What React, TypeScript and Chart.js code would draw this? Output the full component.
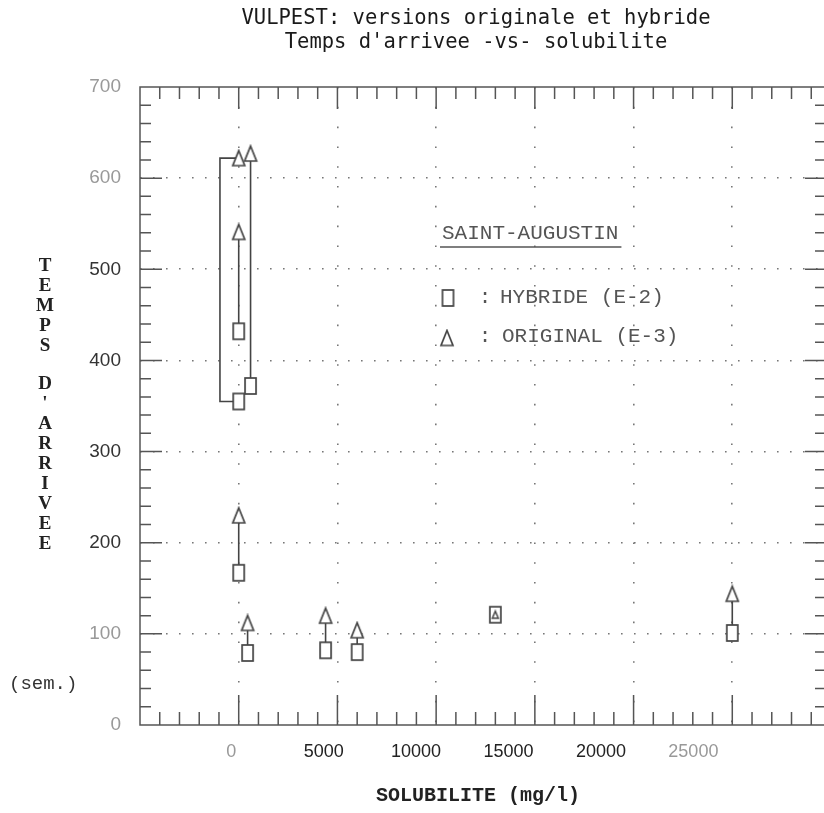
import React, { useEffect, useRef } from 'react';
import { Chart, registerables } from 'chart.js';

Chart.register(...registerables);

// ---- data ----
const solubility = [0, 600, 0, 0, 450, 4400, 6000, 13000, 25000];
const tempsHybride = [355, 372, 432, 167, 79, 82, 80, 121, 101];
const tempsOriginal = [622, 627, 541, 230, 112, 120, 104, 121, 144];
const bracketPairIndex = 0;
const bracketX = -950;

const xTickLabels = [0, 5000, 10000, 15000, 20000, 25000];
const yTickLabels = [0, 100, 200, 300, 400, 500, 600, 700];
const xGridValues = [-5000, 0, 5000, 10000, 15000, 20000, 25000, 30000];

const titleLines = ["VULPEST: versions originale et hybride", "Temps d'arrivee -vs- solubilite"];
const yTitle = "TEMPS D'ARRIVEE";
const yUnit = '(sem.)';
const xTitle = 'SOLUBILITE (mg/l)';
const legendTitle = 'SAINT-AUGUSTIN';
const legendHybride = 'HYBRIDE (E-2)';
const legendOriginal = 'ORIGINAL (E-3)';

const X_MIN = -5000;
const X_MAX = 30000;
const Y_MIN = 0;
const Y_MAX = 700;
const X_MINOR = 1000;
const X_MAJOR = 5000;
const Y_MINOR = 20;
const Y_MAJOR = 100;
const XLABEL_MIN = -4935;
const XLABEL_MAX = 32445;

const INK = '#444';

function makeSquare(w: number, h: number, lw: number, color: string) {
  const c = document.createElement('canvas');
  c.width = w + 4;
  c.height = h + 4;
  const g = c.getContext('2d')!;
  g.fillStyle = '#fff';
  g.fillRect(2, 2, w, h);
  g.strokeStyle = color;
  g.lineWidth = lw;
  g.strokeRect(2, 2, w, h);
  return c;
}

function makeTriangle(w: number, h: number, lw: number, color: string) {
  const c = document.createElement('canvas');
  c.width = w + 4;
  c.height = h + 4;
  const g = c.getContext('2d')!;
  g.beginPath();
  g.moveTo(2 + w / 2, 2);
  g.lineTo(2 + w, 2 + h);
  g.lineTo(2, 2 + h);
  g.closePath();
  g.fillStyle = '#fff';
  g.fill();
  g.strokeStyle = color;
  g.lineWidth = lw;
  g.stroke();
  return c;
}

export default function App() {
  const ref = useRef<HTMLCanvasElement | null>(null);

  useEffect(() => {
    document.body.style.margin = '0';
    document.body.style.overflow = 'hidden';
    const square = makeSquare(11, 16, 1.7, INK);
    const triangle = makeTriangle(12, 15, 1.7, INK);
    const triangleSmall = makeTriangle(6, 7, 1.5, INK);

    const connectors: { x: number; y: number | null }[] = [];
    solubility.forEach((x, i) => {
      const h = tempsHybride[i];
      const o = tempsOriginal[i];
      if (h === o) return;
      if (i === bracketPairIndex) {
        connectors.push({ x, y: h }, { x: bracketX, y: h }, { x: bracketX, y: o }, { x, y: o });
      } else {
        connectors.push({ x, y: h }, { x, y: o });
      }
      connectors.push({ x, y: null });
    });

    const decor = {
      id: 'decor',
      beforeDatasetsDraw(chart: any) {
        const { ctx, chartArea: a } = chart;
        const xs = chart.scales.x;
        const ys = chart.scales.y;
        ctx.save();
        ctx.strokeStyle = '#555';
        ctx.lineWidth = 1.5;
        ctx.strokeRect(a.left, a.top, a.right - a.left, a.bottom - a.top);
        ctx.beginPath();
        for (let v = X_MIN + X_MINOR; v < X_MAX; v += X_MINOR) {
          const px = xs.getPixelForValue(v);
          const major = v % X_MAJOR === 0;
          ctx.moveTo(px, a.bottom);
          ctx.lineTo(px, a.bottom - (major ? 30 : 13));
          ctx.moveTo(px, a.top);
          ctx.lineTo(px, a.top + (major ? 22 : 12));
        }
        for (let v = Y_MIN + Y_MINOR; v < Y_MAX; v += Y_MINOR) {
          const py = ys.getPixelForValue(v);
          const major = v % Y_MAJOR === 0;
          ctx.moveTo(a.left, py);
          ctx.lineTo(a.left + (major ? 22 : 11), py);
          ctx.moveTo(a.right, py);
          ctx.lineTo(a.right - (major ? 26 : 16), py);
        }
        ctx.stroke();
        ctx.restore();
      },
      afterDraw(chart: any) {
        const { ctx } = chart;
        ctx.save();
        // title
        ctx.fillStyle = '#1a1a1a';
        ctx.font = '20.5px "DejaVu Sans Mono"';
        ctx.textAlign = 'center';
        ctx.textBaseline = 'middle';
        ctx.fillText(titleLines[0], 476, 19);
        ctx.fillText(titleLines[1], 476, 43);
        // x title
        ctx.font = 'bold 20px "Liberation Mono"';
        ctx.fillStyle = '#222';
        ctx.fillText(xTitle, 478, 796);
        // y title stacked
        ctx.font = 'bold 19px "Liberation Serif"';
        let y = 266;
        for (const ch of yTitle) {
          if (ch === ' ') {
            y += 18;
            continue;
          }
          ctx.fillText(ch, 45, y);
          y += 20;
        }
        ctx.font = '19px "Liberation Mono"';
        ctx.fillStyle = '#333';
        ctx.textAlign = 'left';
        ctx.fillText(yUnit, 9, 684);
        // legend
        ctx.fillStyle = '#555';
        ctx.strokeStyle = '#555';
        ctx.font = '21px "Liberation Mono"';
        ctx.fillText(legendTitle, 442, 233);
        const tw = ctx.measureText(legendTitle).width;
        ctx.lineWidth = 1.5;
        ctx.beginPath();
        ctx.moveTo(440, 247);
        ctx.lineTo(442 + tw + 3, 247);
        ctx.stroke();
        ctx.drawImage(square, 448 - square.width / 2, 298 - square.height / 2);
        ctx.drawImage(triangle, 447 - triangle.width / 2, 338 - triangle.height / 2);
        ctx.textAlign = 'center';
        ctx.fillText(':', 485, 297);
        ctx.fillText(':', 485, 336);
        ctx.textAlign = 'left';
        ctx.fillText(legendHybride, 500, 297);
        ctx.fillText(legendOriginal, 502, 336);
        ctx.restore();
      },
    };

    const chart = new Chart(ref.current!, {
      type: 'scatter',
      data: {
        datasets: [
          {
            type: 'line',
            label: 'liens',
            data: connectors as any,
            borderColor: INK,
            borderWidth: 1.6,
            pointRadius: 0,
            spanGaps: false,
            fill: false,
            order: 3,
          } as any,
          {
            label: legendHybride,
            data: solubility.map((x, i) => ({ x, y: tempsHybride[i] })),
            pointStyle: square as any,
            pointRadius: 8,
            order: 2,
          },
          {
            label: legendOriginal,
            data: solubility.map((x, i) => ({ x, y: tempsOriginal[i] })),
            pointStyle: solubility.map((_, i) => (tempsHybride[i] === tempsOriginal[i] ? triangleSmall : triangle)) as any,
            pointRadius: 8,
            order: 1,
          },
        ],
      },
      options: {
        responsive: false,
        animation: false,
        layout: { padding: { top: 87, right: 7, left: 0, bottom: 0 } },
        plugins: { legend: { display: false }, tooltip: { enabled: false }, title: { display: false } },
        scales: {
          x: {
            type: 'linear',
            position: 'bottom',
            min: X_MIN,
            max: X_MAX,
            weight: 0,
            afterBuildTicks: (s: any) => {
              s.ticks = xGridValues.map((v) => ({ value: v }));
            },
            afterFit: (s: any) => {
              s.height = 0;
            },
            ticks: { display: false },
            grid: {
              drawTicks: false,
              lineWidth: 1.6,
              color: (c: any) => (c.tick && (c.tick.value <= X_MIN || c.tick.value >= X_MAX) ? 'rgba(0,0,0,0)' : '#777'),
            },
            border: { display: false, dash: [1.6, 18.2] },
          },
          xl: {
            type: 'linear',
            position: 'bottom',
            min: XLABEL_MIN,
            max: XLABEL_MAX,
            weight: 1,
            afterBuildTicks: (s: any) => {
              s.ticks = xTickLabels.map((v) => ({ value: v }));
            },
            afterFit: (s: any) => {
              s.height = 88;
            },
            grid: { display: false, drawTicks: false },
            border: { display: false },
            ticks: {
              autoSkip: false,
              maxRotation: 0,
              padding: 16,
              font: { family: '"Liberation Sans"', size: 18 },
              color: (c: any) => (c.tick && (c.tick.value === 0 || c.tick.value === 25000) ? '#999' : '#222'),
              callback: (v: any) => String(v),
            },
          },
          y: {
            type: 'linear',
            min: Y_MIN,
            max: Y_MAX,
            afterBuildTicks: (s: any) => {
              s.ticks = yTickLabels.map((v) => ({ value: v }));
            },
            afterFit: (s: any) => {
              s.width = 140;
            },
            grid: {
              drawTicks: false,
              lineWidth: 1.6,
              color: (c: any) => (c.tick && (c.tick.value <= Y_MIN || c.tick.value >= Y_MAX) ? 'rgba(0,0,0,0)' : '#777'),
            },
            border: { display: false, dash: [1.6, 11.4] },
            ticks: {
              padding: 19,
              font: { family: '"Liberation Sans"', size: 19 },
              color: (c: any) => (c.tick && [0, 100, 600, 700].includes(c.tick.value) ? '#999' : '#333'),
              callback: (v: any) => String(v),
            },
          },
        },
      },
      plugins: [decor],
    } as any);

    return () => chart.destroy();
  }, []);

  return (
    <div style={{ width: 840, height: 813 }}>
      <canvas ref={ref} width={840} height={813} style={{ display: 'block', width: 840, height: 813 }} />
    </div>
  );
}
